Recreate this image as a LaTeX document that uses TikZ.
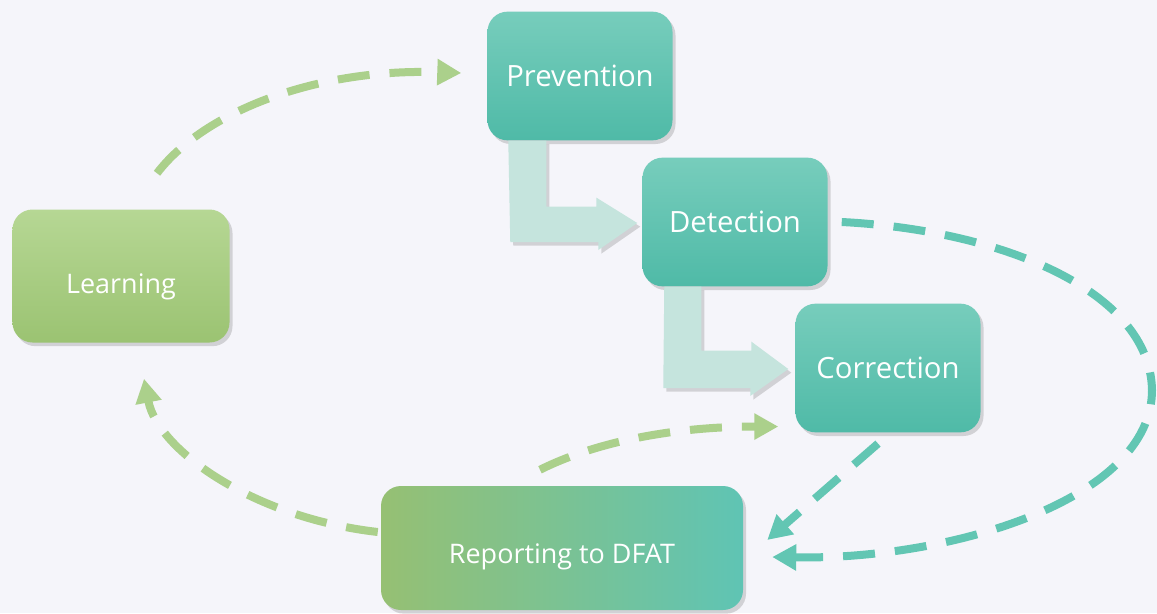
\documentclass[tikz,border=0pt]{standalone}
\usepackage{fontspec}
\setmainfont{Open Sans}
\usetikzlibrary{calc,shadows,arrows.meta}
\definecolor{bg}{HTML}{F5F5FA}
\definecolor{tealtop}{HTML}{77CDBC}
\definecolor{tealbot}{HTML}{4FBAA7}
\definecolor{leaftop}{HTML}{B6D794}
\definecolor{leafbot}{HTML}{9BC372}
\definecolor{repleft}{HTML}{96C073}
\definecolor{repright}{HTML}{5FC4B4}
\definecolor{pale}{HTML}{C5E4DD}
\definecolor{lgreen}{HTML}{ABD08B}
\definecolor{lteal}{HTML}{62C6B3}
\tikzset{
  shade/.style={drop shadow={shadow xshift=0.9mm, shadow yshift=-1.1mm, opacity=0.3}},
  box/.style={shade, rounded corners=6mm, text=white, inner sep=0pt},
  stage/.style={box, minimum width=55.5mm, minimum height=38.6mm,
    top color=tealtop, bottom color=tealbot, font=\fontsize{25}{30}\selectfont},
  learnbox/.style={box, minimum width=65.1mm, minimum height=39.9mm,
    top color=leaftop, bottom color=leafbot, font=\fontsize{23}{28}\selectfont,
    text height=10.2mm, text depth=0pt},
  reportbox/.style={box, minimum width=108.6mm, minimum height=37.2mm,
    left color=repleft, right color=repright, font=\fontsize{23}{28}\selectfont,
    text height=9.2mm, text depth=0pt},
  flow/.style={shade, fill=pale},
  cycle line/.style={line width=2.4mm, dash pattern=on 9.6mm off 6mm,
    -{Triangle[length=7.2mm,width=7.5mm]}},
  greenloop/.style={cycle line, draw=lgreen},
  tealloop/.style={cycle line, draw=lteal}
}

\begin{document}
\begin{tikzpicture}[x=0.3mm, y=-0.3mm]
\fill[bg] (0,0) rectangle (1157,613);
\useasboundingbox (0,0) rectangle (1157,613);
% boxes
\node[stage] (prev) at (580,76) {Prevention};
\node[stage] (det) at (735,222) {Detection};
\node[stage] (corr) at (888,368) {Correction};
\node[learnbox] (learn) at (121,276) {Learning};
\node[reportbox] (rep) at (562,548) {Reporting to DFAT};
% bent block arrows
\fill[flow] ($(prev.south west)+(21,0)$) -- ++(38,0) -- ++(0,66) -- ++(50,0) -- ++(0,-9)
  -- ($(det.west)+(-5,1)$) -- ++(-39,27) -- ++(0,-8) -- ++(-88,0) -- cycle;
\fill[flow] ($(det.south west)+(22,0)$) -- ++(37,0) -- ++(0,64) -- ++(50,0) -- ++(0,-9)
  -- ($(corr.west)+(-7,1)$) -- ++(-38,27) -- ++(0,-8) -- ++(-87,0) -- cycle;
% dashed loops
\draw[greenloop] ($(learn.north)+(36,-36)$) .. controls +(48,-63) and +(-142,-5) .. ($(prev.west)+(-26,-3)$);
\draw[tealloop] ($(det.east)+(14,0)$) .. controls +(158,8) and +(-2,-100) .. (1152,390)
  .. controls +(0,110) and +(178,3) .. ($(rep.east)+(29,9)$);
\draw[tealloop] ($(corr.south)+(-10,11)$) -- ($(rep.east)+(24,-8)$);
\draw[greenloop] ($(rep.north)+(-22,-16)$) .. controls +(60,-30) and +(-98,0) .. ($(corr.south west)+(-17,-6)$);
\draw[greenloop] ($(rep.west)+(-3,-16)$) .. controls +(-123,-14) and +(14,72) .. ($(learn.south)+(23,36)$);
\end{tikzpicture}
\end{document}
